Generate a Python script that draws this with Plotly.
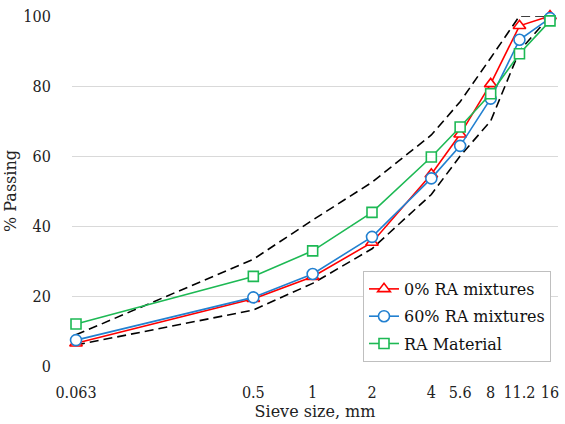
import plotly.graph_objects as go

sieve_sizes = [0.063, 0.5, 1, 2, 4, 5.6, 8, 11.2, 16]
tick_labels = ["0.063", "0.5", "1", "2", "4", "5.6", "8", "11.2", "16"]

ra0_mix = [6.5, 19.2, 25.5, 35.3, 54.8, 66.2, 80.6, 97.2, 100]
ra60_mix = [7.4, 19.6, 26.3, 36.9, 53.6, 62.9, 76.4, 93.2, 99.4]
ra_material = [12.0, 25.6, 32.9, 43.9, 59.7, 68.3, 77.8, 89.2, 98.6]
upper_limit = [8.9, 30.5, 41.7, 52.5, 66.0, 75.5, 88.0, 100, 100]
lower_limit = [6.0, 16.0, 23.6, 33.5, 49.0, 60.0, 70.0, 90.0, 100]

FONT = "DejaVu Serif"
TICKFONT = "DejaVu Serif Condensed, DejaVu Serif"
RED = "#FF0000"
BLUE = "#2280D0"
GREEN = "#1DB954"

fig = go.Figure()

for ys in (upper_limit, lower_limit):
    fig.add_trace(go.Scatter(
        x=sieve_sizes, y=ys, mode="lines",
        line=dict(color="black", width=1.6, dash="9px,5px"),
        showlegend=False, cliponaxis=False, hoverinfo="skip"))

series = [
    ("0% RA mixtures", ra0_mix, RED, "triangle-up", 11),
    ("60% RA mixtures", ra60_mix, BLUE, "circle", 11),
    ("RA Material", ra_material, GREEN, "square", 10),
]
for i, (name, ys, col, sym, sz) in enumerate(series):
    fig.add_trace(go.Scatter(
        x=sieve_sizes, y=ys, mode="lines+markers", name=name,
        legendgroup=f"g{i}",
        line=dict(color=col, width=1.6),
        marker=dict(symbol=sym, size=sz, color="white",
                    line=dict(color=col, width=1.6)),
        cliponaxis=False))

fig.update_layout(
    width=565, height=424,
    margin=dict(l=72, r=7, t=16, b=58),
    paper_bgcolor="white", plot_bgcolor="white",
    font=dict(family=FONT, size=16, color="#222222"),
    showlegend=True,
    legend=dict(
        x=(363 - 72) / 486, y=0.2629 + 3 / 350, xanchor="left", yanchor="top",
        bgcolor="white", bordercolor="#BFBFBF", borderwidth=1,
        font=dict(family=FONT, size=16, color="#111111"),
        tracegroupgap=3.5, itemwidth=30),
    xaxis=dict(
        type="log", range=[-1.221, 1.2447],
        tickvals=sieve_sizes, ticktext=tick_labels,
        showgrid=False, zeroline=False, showline=False,
        ticks="outside", ticklen=12, tickcolor="rgba(0,0,0,0)",
        tickfont=dict(family=TICKFONT, size=16),
        title=dict(text="Sieve size, mm", font=dict(family=FONT, size=16), standoff=2)),
    yaxis=dict(
        range=[0, 100], tickvals=[0, 20, 40, 60, 80, 100],
        showgrid=True, gridcolor="#D9D9D9", gridwidth=1.3,
        zeroline=False, showline=False,
        ticks="outside", ticklen=17, tickcolor="rgba(0,0,0,0)",
        tickfont=dict(family=TICKFONT, size=16),
        title=dict(text="% Passing", font=dict(family=FONT, size=16), standoff=2)),
)

fig.write_html("out.html")
